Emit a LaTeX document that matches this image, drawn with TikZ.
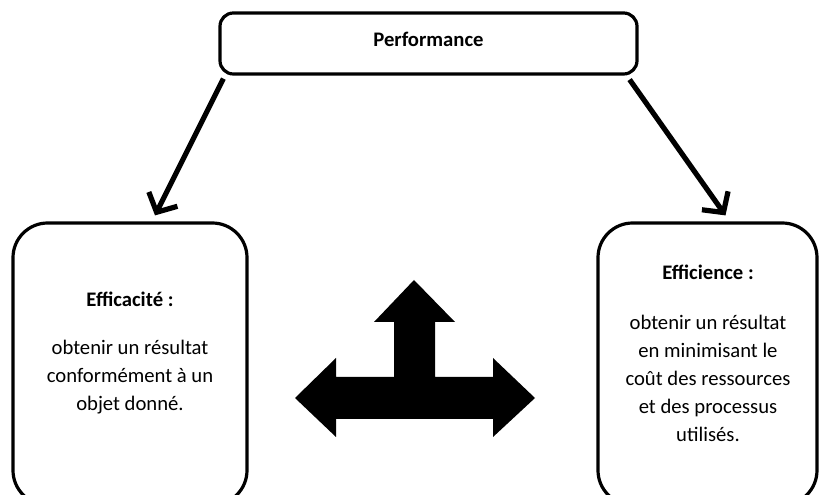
\documentclass[tikz,border=0pt]{standalone}
\usepackage{fontspec}
\setmainfont{Carlito}
\usetikzlibrary{arrows.meta,calc}
\begin{document}
\begin{tikzpicture}[x=0.75pt,y=-0.75pt,
  box/.style={draw=black,line width=2.4pt,rectangle,fill=white},
  conn/.style={line width=3.9pt,-{Straight Barb[length=11pt,width=24pt]}},
  txt/.style={font=\fontsize{15.5}{21}\selectfont,align=center,inner sep=0pt},
  ttl/.style={font=\fontsize{15.5}{21}\selectfont\bfseries,inner sep=0pt}]
\useasboundingbox (0,0) rectangle (819,495);
\clip (0,0) rectangle (819,495);
% boxes
\node[box,rounded corners=10pt,minimum width=312.75pt,minimum height=45.75pt] (top) at (428.5,43.5) {};
\node[ttl] (toptxt) at (428.5,39.5) {Performance};
\node[box,rounded corners=26pt,minimum width=175.5pt,minimum height=211.5pt] (left) at (130,364) {};
\node[box,rounded corners=26pt,minimum width=164.25pt,minimum height=211.5pt] (right) at (707.5,364) {};
% texts
\node[ttl] (lt) at (130,299) {Efficacité :};
\node[txt] (lb) at (130,377) {obtenir un résultat\\conformément à un\\objet donné.};
\node[ttl] (rt) at (708,272) {Efficience :};
\node[txt] (rb) at (708,378) {obtenir un résultat\\en minimisant le\\coût des ressources\\et des processus\\utilisés.};
% connectors
\draw[conn] ($(top.south west)+(5,3)$) -- ($(left.north)+(25,-6)$);
\draw[conn] ($(top.south east)+(-9,4)$) -- ($(right.north)+(18,-6)$);
% block arrow
\fill[black] (295,398) -- (336,358) -- (336,377) -- (394,377) -- (394,322) -- (374,322)
  -- (414,280) -- (455,322) -- (435,322) -- (435,377) -- (493,377) -- (493,358)
  -- (535,398) -- (493,437) -- (493,419) -- (336,419) -- (336,437) -- cycle;
\end{tikzpicture}
\end{document}
